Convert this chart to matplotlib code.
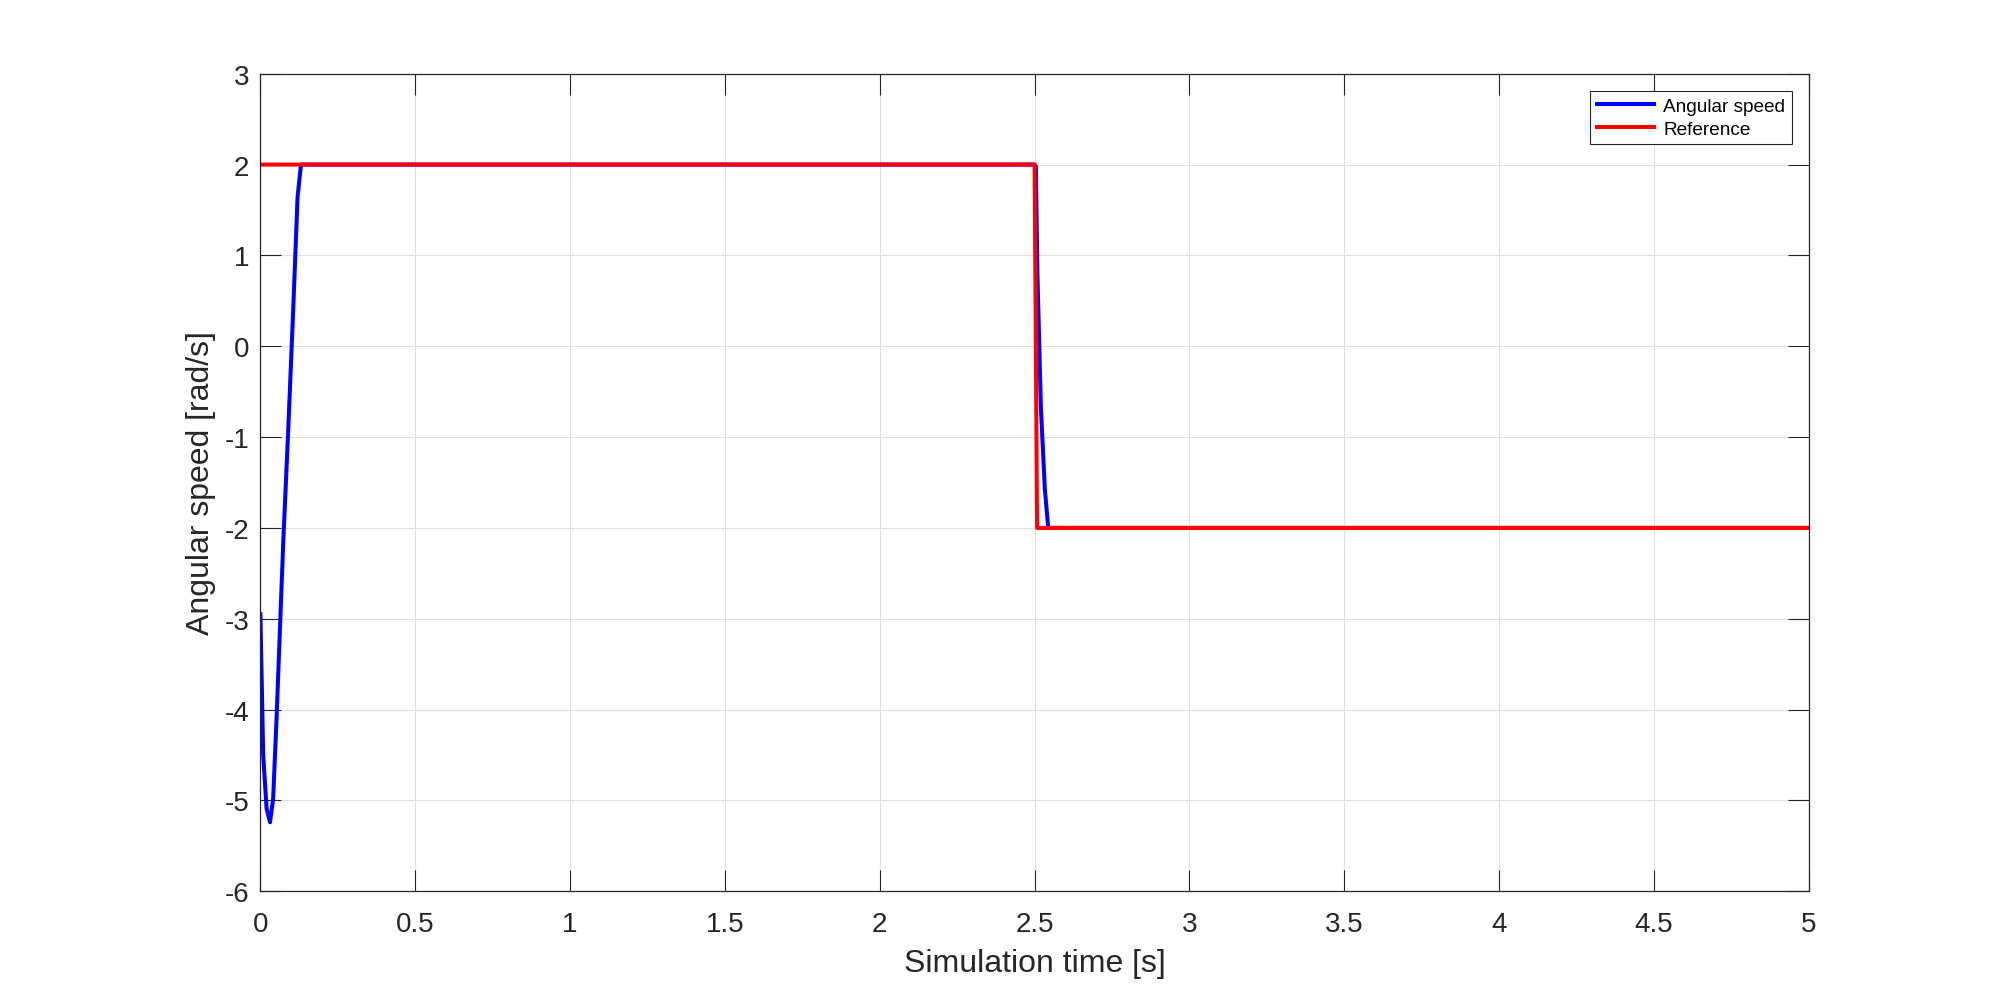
import matplotlib
matplotlib.use("Agg")
import matplotlib.pyplot as plt
from matplotlib.ticker import FuncFormatter

# Angular speed (blue) samples
speed_t = [0.0, 0.009, 0.020, 0.031, 0.041, 0.052, 0.063, 0.074, 0.090, 0.106, 0.120, 0.131,
           2.500, 2.504, 2.509, 2.520, 2.533, 2.544, 5.0]
speed_v = [-2.95, -4.50, -5.09, -5.24, -4.99, -4.11, -3.12, -2.14, -0.91, 0.41, 1.64, 2.0,
           2.0, 1.98, 0.81, -0.65, -1.57, -2.0, -2.0]

# Reference (red) step
ref_t = [0.0, 2.500, 2.508, 5.0]
ref_v = [2.0, 2.0, -2.0, -2.0]

xticks = [0, 0.5, 1, 1.5, 2, 2.5, 3, 3.5, 4, 4.5, 5]
yticks = [-6, -5, -4, -3, -2, -1, 0, 1, 2, 3]

plt.rcParams['font.family'] = ['Liberation Sans', 'DejaVu Sans']

fig = plt.figure(figsize=(20, 10.03), dpi=100)
ax = fig.add_axes([0.1302, 0.1104, 0.9044 - 0.1302, 0.9255 - 0.1104])

ax.plot(speed_t, speed_v, color='#0000ff', lw=2.9, label='Angular speed', solid_joinstyle='round')
ax.plot(ref_t, ref_v, color='#ff0000', lw=2.9, label='Reference')

ax.set_xlim(0, 5)
ax.set_ylim(-6, 3)
ax.set_xticks(xticks)
ax.set_yticks(yticks)

fmt = FuncFormatter(lambda v, p: ('%g' % v).replace('\u2212', '-'))
ax.xaxis.set_major_formatter(fmt)
ax.yaxis.set_major_formatter(fmt)

ax.grid(True, color='#dfdfdf', lw=0.8)
ax.set_axisbelow(True)
ax.tick_params(direction='in', length=15, width=0.8, top=True, right=True,
               labelsize=20, colors='#262626')
ax.tick_params(axis='x', pad=14)
ax.tick_params(axis='y', pad=8)
for s in ax.spines.values():
    s.set_color('#262626')
    s.set_linewidth(0.9)

ax.set_xlabel('Simulation time [s]', fontsize=23, color='#262626', labelpad=8)
ax.set_ylabel('Angular speed [rad/s]', fontsize=23, color='#262626', labelpad=6)

leg = ax.legend(loc='upper right', bbox_to_anchor=(0.896, 1 - 91.7 / 1003),
                bbox_transform=fig.transFigure, borderaxespad=0, fontsize=13.7,
                fancybox=False, framealpha=1, edgecolor='#262626',
                handlelength=3.0, labelspacing=0.3, borderpad=0.35, handletextpad=0.5)
leg.get_frame().set_linewidth(0.8)

fig.savefig('out.png', dpi=100)
